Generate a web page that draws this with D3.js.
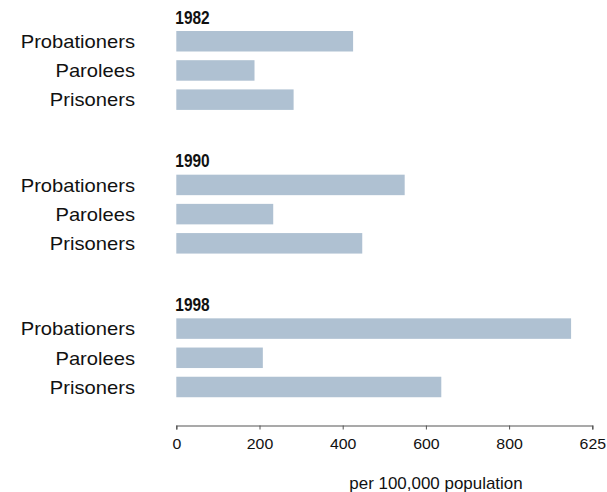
<!DOCTYPE html>
<html>
<head>
<meta charset="utf-8">
<script src="https://cdn.jsdelivr.net/npm/d3@7"></script>
<style>
  html, body { margin: 0; padding: 0; background: #fff; }
  svg { display: block; }
</style>
</head>
<body>
<svg id="chart" width="607" height="492"></svg>
<script>
const years = ["1982", "1990", "1998"];
const categories = ["Probationers", "Parolees", "Prisoners"];
const probationers = [425, 549, 949];
const parolees = [188, 233, 208];
const prisoners = [282, 447, 637];
const tickValues = [0, 200, 400, 600, 800, 1000];
const tickLabels = ["0", "200", "400", "600", "800", "625"];
const axisTitle = "per 100,000 population";

const seriesByCat = { "Probationers": probationers, "Parolees": parolees, "Prisoners": prisoners };
const rows = [];
years.forEach((yr, i) => categories.forEach(c => rows.push({ year: yr, cat: c, value: seriesByCat[c][i] })));

const svg = d3.select("#chart");
const x = d3.scaleLinear().domain([0, 1000]).range([176.3, 592.3]);
const yGroup = d3.scaleBand().domain(years).range([31, 31 + 3 * 143.67]).paddingInner(0).paddingOuter(0);
const yInner = d3.scaleBand().domain(categories).range([0, 78.9]).paddingInner(0.298).paddingOuter(0);

const g = svg.append("g");

// year labels (condensed bold)
g.selectAll("text.year").data(years).join("text")
  .attr("class", "year")
  .attr("transform", d => `translate(${x(0) - 1},${yGroup(d) - 7.5}) scale(0.86,1)`)
  .attr("font-family", "'Liberation Sans', Arial, sans-serif")
  .attr("font-weight", "bold")
  .attr("font-size", 18)
  .attr("fill", "#111")
  .text(d => d);

// bars
g.selectAll("rect.bar").data(rows).join("rect")
  .attr("class", "bar")
  .attr("x", x(0))
  .attr("y", d => yGroup(d.year) + yInner(d.cat))
  .attr("width", d => x(d.value) - x(0))
  .attr("height", yInner.bandwidth())
  .attr("fill", "#afc1d2");

// category labels
g.selectAll("text.cat").data(rows).join("text")
  .attr("class", "cat")
  .attr("transform", d => `translate(135,${yGroup(d.year) + yInner(d.cat) + yInner.bandwidth() / 2}) scale(1.12,1)`)
  .attr("dy", "0.38em")
  .attr("text-anchor", "end")
  .attr("font-family", "'Liberation Sans', Arial, sans-serif")
  .attr("font-size", 18)
  .attr("fill", "#111")
  .text(d => d.cat);

// axis
const axis = d3.axisBottom(x)
  .tickValues(tickValues)
  .tickFormat((d, i) => tickLabels[i])
  .tickSize(4)
  .tickSizeOuter(4)
  .tickPadding(9);
const ax = svg.append("g").attr("transform", "translate(0,425.5)").call(axis);
ax.select(".domain").attr("stroke", "#555").attr("stroke-width", 1.2);
ax.selectAll(".tick line").attr("stroke", "#555");
ax.selectAll(".tick text")
  .attr("font-family", "'Liberation Sans', Arial, sans-serif")
  .attr("font-size", 15)
  .attr("transform", "scale(1.06,1)")
  .attr("fill", "#111");

svg.append("text")
  .attr("transform", "translate(436,489) scale(1.06,1)")
  .attr("text-anchor", "middle")
  .attr("font-family", "'Liberation Sans', Arial, sans-serif")
  .attr("font-size", 16)
  .attr("fill", "#111")
  .text(axisTitle);
</script>
</body>
</html>
